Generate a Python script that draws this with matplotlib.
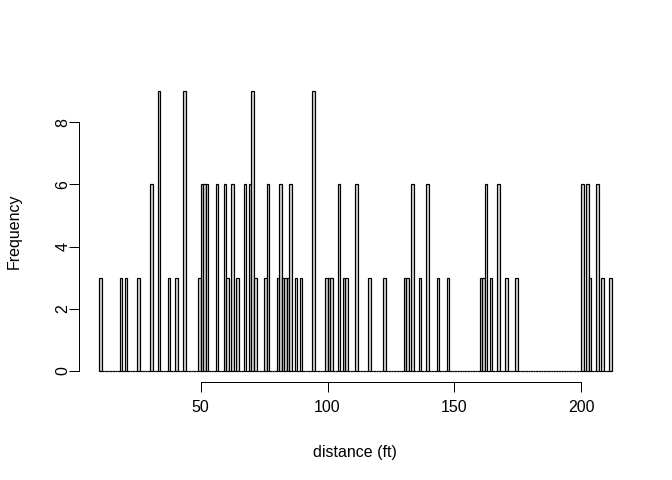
import matplotlib
matplotlib.use("Agg")
import matplotlib.pyplot as plt
import numpy as np

# Histogram data: bins of width 1 ft from 10 to 212 (left edges of non-empty bins and counts)
break_start = 10
break_end = 212
bin_left = [10, 18, 20, 25, 30, 33, 37, 40, 43, 49, 50, 51, 52, 56, 59, 60, 62, 64,
            67, 69, 70, 71, 75, 76, 80, 81, 82, 83, 84, 85, 87, 89, 94, 99, 100, 101,
            104, 106, 107, 111, 116, 122, 130, 131, 133, 136, 139, 143, 147, 160, 161,
            162, 164, 167, 170, 174, 200, 202, 203, 206, 208, 211]
bin_count = [3, 3, 3, 3, 6, 9, 3, 3, 9, 3, 6, 6, 6, 6, 6, 3, 6, 3,
             6, 6, 9, 3, 3, 6, 3, 6, 3, 3, 3, 6, 3, 3, 9, 3, 3, 3,
             6, 3, 3, 6, 3, 3, 3, 3, 6, 3, 6, 3, 3, 3, 3,
             6, 3, 6, 3, 3, 6, 6, 3, 6, 3, 3]
x_ticks = [50, 100, 150, 200]
y_ticks = [0, 2, 4, 6, 8]
x_label = "distance (ft)"
y_label = "Frequency"

plt.rcParams['font.family'] = ['Liberation Sans', 'DejaVu Sans']

edges = np.arange(break_start, break_end)
counts = np.zeros(len(edges))
lookup = dict(zip(bin_left, bin_count))
for i, e in enumerate(edges):
    counts[i] = lookup.get(int(e), 0)

W, H = 672, 480
fig = plt.figure(figsize=(W / 96, H / 96), dpi=96)
left, right, top, bottom = 78.8, 632.0, 79.9, 382.2
ax = fig.add_axes([left / W, 1 - bottom / H, (right - left) / W, (bottom - top) / H])

ax.bar(edges, counts, width=1, align='edge', color='#D3D3D3',
       edgecolor='black', linewidth=0.9)

xr = break_end - break_start
ax.set_xlim(break_start - 0.04 * xr, break_end + 0.04 * xr)
ymax = max(bin_count)
ax.set_ylim(-0.04 * ymax, ymax * 1.04)

for s in ['top', 'right']:
    ax.spines[s].set_visible(False)
ax.spines['bottom'].set_bounds(x_ticks[0], x_ticks[-1])
ax.spines['left'].set_bounds(y_ticks[0], y_ticks[-1])
for s in ['bottom', 'left']:
    ax.spines[s].set_linewidth(0.75)

ax.set_xticks(x_ticks)
ax.set_yticks(y_ticks)
ax.set_xticklabels([str(t) for t in x_ticks])
ax.set_yticklabels([str(t) for t in y_ticks], rotation=90, va='center')
ax.tick_params(direction='out', length=7.2, width=0.75, labelsize=12, colors='black')
ax.tick_params(axis='x', pad=6)
ax.tick_params(axis='y', pad=-1)

ax.set_xlabel(x_label, fontsize=12)
ax.set_ylabel(y_label, fontsize=12)
ax.xaxis.set_label_coords((left + right) / 2 / W, 1 - 452 / H, transform=fig.transFigure)
ax.xaxis.label.set_va('center')
ax.yaxis.set_label_coords(14 / W, 1 - (top + bottom) / 2 / H, transform=fig.transFigure)
ax.yaxis.label.set_va('center')

fig.savefig("out.png", dpi=96, facecolor='white')
